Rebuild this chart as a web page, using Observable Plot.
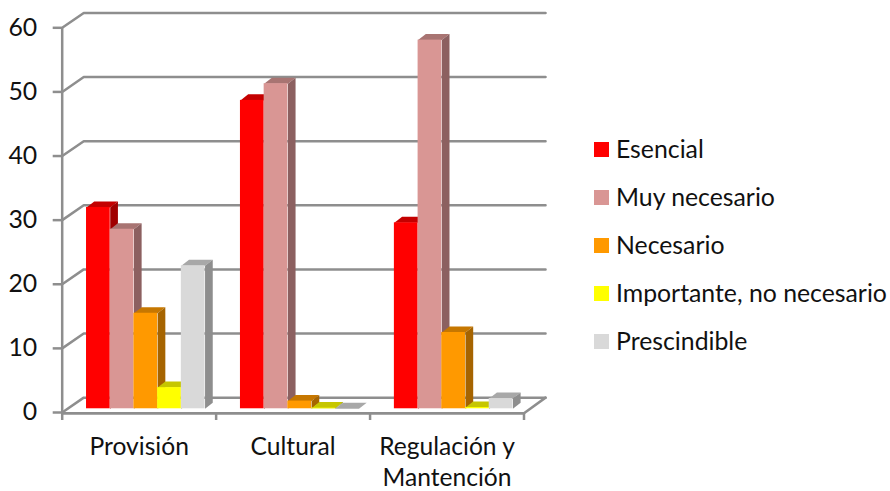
<!DOCTYPE html>
<html>
<head>
<meta charset="utf-8">
<script src="https://cdn.jsdelivr.net/npm/d3@7"></script>
<script src="https://cdn.jsdelivr.net/npm/@observablehq/plot@0.6"></script>
<style>
  html, body { margin: 0; background: #fff; }
  #chart { position: relative; width: 890px; height: 491px; font-family: Lato, sans-serif; color: #111; overflow: hidden; }
  #chart svg { position: absolute; left: 0; top: 0; }
  #legend { position: absolute; left: 594px; top: 125px; }
  .row { display: flex; align-items: center; height: 48.2px; font-size: 24.8px; white-space: nowrap; }
  .row span { position: relative; top: -1px; }
  .sw { width: 15px; height: 15px; margin-right: 7px; flex: none; }
</style>
</head>
<body>
<div id="chart"><div id="legend"></div></div>
<script>
const categories = ["Provisión", "Cultural", "Regulación y\nMantención"];
const seriesNames = ["Esencial", "Muy necesario", "Necesario", "Importante, no necesario", "Prescindible"];
const frontColors = ["#ff0000", "#d99694", "#ff9900", "#ffff00", "#d9d9d9"];
const topColors = ["#c40000", "#a87472", "#c67700", "#c6c600", "#a8a8a8"];
const sideColors = ["#a00000", "#8c6060", "#a66400", "#8f8f00", "#8e8e8e"];

const esencial = [31.4, 48.1, 29.0];
const muyNecesario = [28.0, 50.7, 57.5];
const necesario = [14.9, 1.2, 11.9];
const importante = [3.3, 0.1, 0.2];
const prescindible = [22.3, 0, 1.6];
const series = [esencial, muyNecesario, necesario, importante, prescindible];

const yTicks = [0, 10, 20, 30, 40, 50, 60];

// Oblique projection: depth shifts a point right (category units) and up (value units)
const wallDx = 0.14, wallDv = 2.32;
const barFront = {dx: 0.035, dv: 0.58};
const barBack = {dx: 0.085, dv: 1.52};
const barStart = 0.123, barWidth = 0.154;

const frontRects = [];
const faces = [];
series.forEach((values, s) => {
  values.forEach((v, c) => {
    const x0 = c + barStart + s * barWidth;
    const x1 = x0 + barWidth;
    frontRects.push({
      x1: x0 + barFront.dx, x2: x1 + barFront.dx,
      y1: barFront.dv, y2: v + barFront.dv, fill: frontColors[s]
    });
    const top = [[x0, v, barFront], [x1, v, barFront], [x1, v, barBack], [x0, v, barBack]];
    const side = [[x1, 0, barFront], [x1, v, barFront], [x1, v, barBack], [x1, 0, barBack]];
    top.forEach(([x, y, d]) => faces.push({id: `t${s}-${c}`, x: x + d.dx, y: y + d.dv, fill: topColors[s]}));
    if (v > 0) side.forEach(([x, y, d]) => faces.push({id: `s${s}-${c}`, x: x + d.dx, y: y + d.dv, fill: sideColors[s]}));
  });
});

// Back wall gridlines, each with its diagonal run along the side wall, plus the floor outline
const wall = [];
yTicks.forEach(v => {
  wall.push({id: v, x: 0, y: v}, {id: v, x: wallDx, y: v + wallDv}, {id: v, x: 3 + wallDx, y: v + wallDv});
});
const floor = [{x: 0, y: -0.1}, {x: 3, y: -0.1}, {x: 3 + wallDx, y: wallDv}];

const grey = "#8e8e8e";
const plot = Plot.plot({
  width: 890,
  height: 491,
  marginLeft: 61.7,
  marginRight: 366.5,
  marginTop: 27.3,
  marginBottom: 79,
  style: {fontFamily: "Lato, sans-serif", background: "transparent"},
  x: {domain: [0, 3]},
  y: {domain: [0, 60]},
  marks: [
    Plot.line(wall, {x: "x", y: "y", z: "id", stroke: grey, strokeWidth: 2.5}),
    Plot.line(floor, {x: "x", y: "y", stroke: grey, strokeWidth: 2.5}),
    Plot.ruleX([0], {y1: 0, y2: 60, stroke: grey, strokeWidth: 2.5}),
    Plot.axisY({ticks: yTicks, tickSize: 9, tickPadding: 16, stroke: grey, strokeWidth: 2.5, fill: "#111", fontSize: 24.8, label: null}),
    Plot.axisX({ticks: [0, 1, 2, 3], tickSize: 8, stroke: grey, strokeWidth: 2.5, tickFormat: () => "", label: null}),
    Plot.axisX({ticks: [0.5, 1.5, 2.5], tickSize: 0, tickPadding: 20, fill: "#111", fontSize: 24.6, lineHeight: 1.28,
      textAnchor: "middle", lineAnchor: "top", tickFormat: d => categories[Math.floor(d)], label: null}),
    Plot.ruleY([-0.1], {x1: 0, x2: 3, stroke: grey, strokeWidth: 2.5}),
    Plot.line(faces, {x: "x", y: "y", z: "id", fill: "fill", stroke: "none"}),
    Plot.rect(frontRects, {x1: "x1", x2: "x2", y1: "y1", y2: "y2", fill: "fill", inset: 0})
  ]
});
document.getElementById("chart").prepend(plot);

const legend = d3.select("#legend");
seriesNames.forEach((name, i) => {
  const row = legend.append("div").attr("class", "row");
  row.append("div").attr("class", "sw").style("background", frontColors[i]);
  row.append("span").text(name);
});
</script>
</body>
</html>
